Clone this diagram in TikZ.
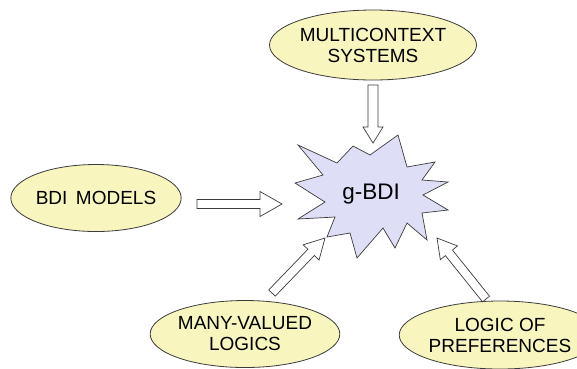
\documentclass[tikz,border=0pt]{standalone}
\usepackage{fontspec}
\setmainfont{Liberation Sans}
\usetikzlibrary{shapes.geometric,calc}
\definecolor{ellfill}{RGB}{248,245,190}
\definecolor{starfill}{RGB}{222,222,247}
\definecolor{edgecol}{RGB}{60,60,60}
\begin{document}
\begin{tikzpicture}[x=1pt,y=-1pt,
  topic/.style={ellipse, draw=edgecol, fill=ellfill, line width=0.8pt, inner sep=0pt, align=center,
    font=\fontsize{19}{21}\selectfont},
  starbody/.style={draw=edgecol, fill=starfill, line width=0.7pt, line join=miter},
  arrowbody/.style={draw=edgecol, fill=white, line width=0.7pt, line join=miter},
  pics/blockarrow/.style args={#1/#2/#3/#4}{code={
    \draw[arrowbody] (0,{-#4/2}) -- ({#1-#2},{-#4/2}) -- ({#1-#2},{-#3/2}) -- (#1,0)
      -- ({#1-#2},{#3/2}) -- ({#1-#2},{#4/2}) -- (0,{#4/2}) -- cycle;}}]
\clip (0,0) rectangle (577,368);
\fill[white] (0,0) rectangle (577,368);

% ellipses
\node[topic, minimum width=177pt, minimum height=70pt] (mc) at (373,45) {MULTICONTEXT\\SYSTEMS};
\node[topic, minimum width=168pt, minimum height=67pt] (bdi) at (96,198) {BDI\hspace{0.45em}MODELS};
\node[topic, minimum width=170pt, minimum height=67pt] (mv) at (245,334) {MANY-VALUED\\LOGICS};
\node[topic, minimum width=164pt, minimum height=68pt] (lp) at (500,335) {LOGIC OF\\PREFERENCES};

% star
\draw[starbody] (298,145) -- (337,163) -- (353,146) -- (370,155) -- (398,135) -- (407,167)
  -- (435,162) -- (422,180) -- (448,182) -- (423,195) -- (448,210) -- (422,213)
  -- (427,240) -- (407,223) -- (395,248) -- (383,228) -- (357,258) -- (350,233)
  -- (327,237) -- (335,217) -- (298,219) -- (325,202) -- (295,183) -- (323,175) -- cycle;
\node[font=\fontsize{22.5}{24}\selectfont, inner sep=0pt] (g) at (371,194) {g-BDI};

% arrow end points
\coordinate (a1s) at (373,85);  \coordinate (a1e) at (373,143);
\coordinate (a2s) at (197,204); \coordinate (a2e) at (282,204);
\coordinate (a3s) at (272,293); \coordinate (a3e) at (325,238);
\coordinate (a4s) at (486,299); \coordinate (a4e) at (437,238);

\path let \p1=($(a1e)-(a1s)$), \n1={atan2(\y1,\x1)}, \n2={veclen(\x1,\y1)} in
  (a1s) pic[rotate=\n1] {blockarrow={\n2/16/20/10}};
\path let \p1=($(a2e)-(a2s)$), \n1={atan2(\y1,\x1)}, \n2={veclen(\x1,\y1)} in
  (a2s) pic[rotate=\n1] {blockarrow={\n2/22/25/9}};
\path let \p1=($(a3e)-(a3s)$), \n1={atan2(\y1,\x1)}, \n2={veclen(\x1,\y1)} in
  (a3s) pic[rotate=\n1] {blockarrow={\n2/20/22/9}};
\path let \p1=($(a4e)-(a4s)$), \n1={atan2(\y1,\x1)}, \n2={veclen(\x1,\y1)} in
  (a4s) pic[rotate=\n1] {blockarrow={\n2/19/22/9}};
\end{tikzpicture}
\end{document}
